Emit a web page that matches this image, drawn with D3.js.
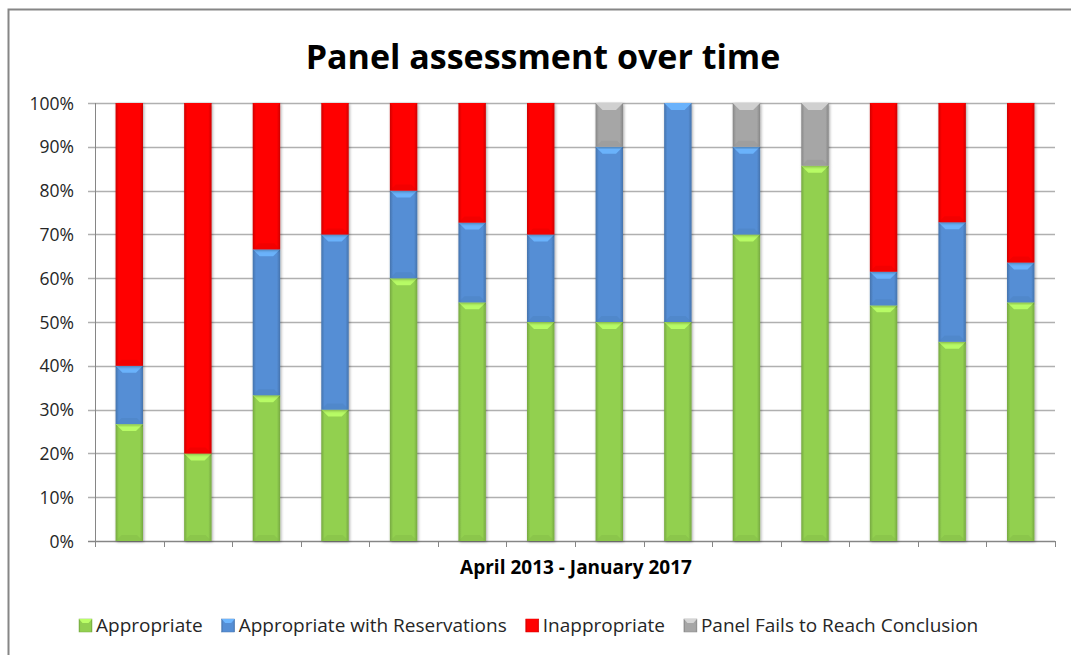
<!DOCTYPE html>
<html>
<head>
<meta charset="utf-8">
<script src="https://cdn.jsdelivr.net/npm/d3@7"></script>
<style>
  body { margin: 0; background: #fff; }
  text { font-family: "Open Sans", "Noto Sans", sans-serif; fill: #262626; }
</style>
</head>
<body>
<script>
// page size
var w = 1071, h = 655;

// data: share of panel outcomes (%) for each assessment period
var periods = ["1", "2", "3", "4", "5", "6", "7", "8", "9", "10", "11", "12", "13", "14"];
var appropriate   = [26.7, 20, 33.3, 30, 60, 54.5, 50, 50, 50, 70, 85.7, 53.8, 45.5, 54.5];
var reservations  = [13.3, 0, 33.3, 40, 20, 18.2, 20, 40, 50, 20, 0, 7.7, 27.3, 9.1];
var inappropriate = [60, 80, 33.4, 30, 20, 27.3, 30, 0, 0, 0, 0, 38.5, 27.2, 36.4];
var noConclusion  = [0, 0, 0, 0, 0, 0, 0, 10, 0, 10, 14.3, 0, 0, 0];
var seriesNames = ["Appropriate", "Appropriate with Reservations", "Inappropriate", "Panel Fails to Reach Conclusion"];
var yTicks = [0, 10, 20, 30, 40, 50, 60, 70, 80, 90, 100];

var colors = ["#92d050", "#558ed5", "#ff0000", "#a6a6a6"];
var keys = ["a", "r", "i", "n"];

var rows = periods.map(function(p, i){
    return { period: p, a: appropriate[i], r: reservations[i], i: inappropriate[i], n: noConclusion[i] };
});

var svg = d3.select("body")
    .append("svg")
    .attr("width", w)
    .attr("height", h);

// outer chart frame (cropped on right and bottom like the original)
svg.append("rect")
    .attr("x", 8.5).attr("y", 9.5)
    .attr("width", w + 20).attr("height", h + 20)
    .attr("fill", "#fff")
    .attr("stroke", "#868686")
    .attr("stroke-width", 2);

var defs = svg.append("defs");
colors.forEach(function(c, k){
    var g = defs.append("linearGradient")
        .attr("id", "grad" + k)
        .attr("x1", "0%").attr("x2", "100%").attr("y1", "0%").attr("y2", "0%");
    var dark = d3.color(c).darker(0.6);
    g.append("stop").attr("offset", "0%").attr("stop-color", dark);
    g.append("stop").attr("offset", "12%").attr("stop-color", c);
    g.append("stop").attr("offset", "88%").attr("stop-color", c);
    g.append("stop").attr("offset", "100%").attr("stop-color", dark);
});
var shadow = defs.append("filter").attr("id", "shadow")
    .attr("x", "-30%").attr("y", "-5%").attr("width", "160%").attr("height", "110%");
shadow.append("feDropShadow")
    .attr("dx", 1).attr("dy", 1).attr("stdDeviation", 1.5)
    .attr("flood-color", "#000").attr("flood-opacity", 0.35);

var x = d3.scaleBand()
    .domain(periods)
    .range([95, 1055])
    .paddingInner(0.6)
    .paddingOuter(0.3);

var y = d3.scaleLinear()
    .domain([0, 100])
    .range([541, 103]);

// gridlines
svg.append("g")
    .selectAll("line")
    .data(yTicks)
    .enter()
    .append("line")
    .attr("x1", 88).attr("x2", 1055)
    .attr("y1", function(d){ return Math.round(y(d)) + 0.5; })
    .attr("y2", function(d){ return Math.round(y(d)) + 0.5; })
    .attr("stroke", function(d){ return d === 0 ? "#868686" : "#b0b0b0"; })
    .attr("stroke-width", 1.3);

// y axis line
svg.append("line")
    .attr("x1", 95.5).attr("x2", 95.5)
    .attr("y1", 103).attr("y2", 541)
    .attr("stroke", "#868686");

// y tick labels
svg.append("g")
    .selectAll("text")
    .data(yTicks)
    .enter()
    .append("text")
    .attr("x", 74)
    .attr("y", function(d){ return y(d) + 6.5; })
    .attr("text-anchor", "end")
    .style("font-size", "17.5px")
    .text(function(d){ return d + "%"; });

// category boundary ticks on x axis
var step = x.step();
svg.append("g")
    .selectAll("line")
    .data(d3.range(periods.length + 1))
    .enter()
    .append("line")
    .attr("x1", function(d){ return Math.round(95 + d * step) + 0.5; })
    .attr("x2", function(d){ return Math.round(95 + d * step) + 0.5; })
    .attr("y1", 541).attr("y2", 547)
    .attr("stroke", "#868686");

// stacked bars
var stack = d3.stack().keys(keys)(rows);

var layers = svg.append("g")
    .selectAll("g")
    .data(stack)
    .enter()
    .append("g");

var segs = layers.selectAll("g")
    .data(function(d, k){
        return d.map(function(s){ return { k: k, y0: s[0], y1: s[1], period: s.data.period }; })
            .filter(function(s){ return s.y1 - s.y0 > 0.01; });
    })
    .enter()
    .append("g");

segs.append("rect")
    .attr("x", function(d){ return x(d.period); })
    .attr("width", x.bandwidth())
    .attr("y", function(d){ return y(d.y1); })
    .attr("height", function(d){ return y(d.y0) - y(d.y1); })
    .attr("fill", function(d){ return "url(#grad" + d.k + ")"; })
    .attr("filter", "url(#shadow)");

// bevel highlight on top of each segment
segs.append("path")
    .attr("d", function(d){
        var x0 = x(d.period), bw = x.bandwidth(), t = y(d.y1);
        var bh = Math.min(7, (y(d.y0) - y(d.y1)) / 2);
        return "M" + x0 + "," + t + "L" + (x0 + bw) + "," + t +
            "L" + (x0 + bw - 7) + "," + (t + bh) + "L" + (x0 + 7) + "," + (t + bh) + "Z";
    })
    .attr("fill", function(d){ return d3.color(colors[d.k]).brighter(0.7); })
    .attr("opacity", 0.9);

// darker band at bottom of each segment
segs.append("path")
    .attr("d", function(d){
        var x0 = x(d.period), bw = x.bandwidth(), b = y(d.y0);
        var bh = Math.min(6, (y(d.y0) - y(d.y1)) / 2);
        return "M" + x0 + "," + b + "L" + (x0 + bw) + "," + b +
            "L" + (x0 + bw - 6) + "," + (b - bh) + "L" + (x0 + 6) + "," + (b - bh) + "Z";
    })
    .attr("fill", function(d){ return d3.color(colors[d.k]).darker(0.3); })
    .attr("opacity", 0.45);

// title
svg.append("text")
    .attr("x", 543)
    .attr("y", 69)
    .attr("text-anchor", "middle")
    .style("font-size", "34px")
    .style("font-weight", "bold")
    .style("fill", "#000")
    .text("Panel assessment over time");

// x axis title
svg.append("text")
    .attr("x", 576)
    .attr("y", 574)
    .attr("text-anchor", "middle")
    .style("font-size", "19px")
    .style("font-weight", "bold")
    .style("fill", "#000")
    .text("April 2013 - January 2017");

// legend
var legend = svg.append("g");
var lx = 79;
seriesNames.forEach(function(name, k){
    var item = legend.append("g");
    item.append("rect")
        .attr("x", lx).attr("y", 619)
        .attr("width", 13).attr("height", 13)
        .attr("fill", "url(#grad" + k + ")")
        .attr("stroke", d3.color(colors[k]).darker(0.5))
        .attr("stroke-width", 0.5);
    item.append("path")
        .attr("d", "M" + lx + ",619L" + (lx + 13) + ",619L" + (lx + 9.5) + ",623L" + (lx + 3.5) + ",623Z")
        .attr("fill", d3.color(colors[k]).brighter(0.7));
    var t = item.append("text")
        .attr("x", lx + 17)
        .attr("y", 632)
        .style("font-size", "19px")
        .text(name);
    lx += 17 + t.node().getComputedTextLength() + 19;
});
</script>
</body>
</html>
